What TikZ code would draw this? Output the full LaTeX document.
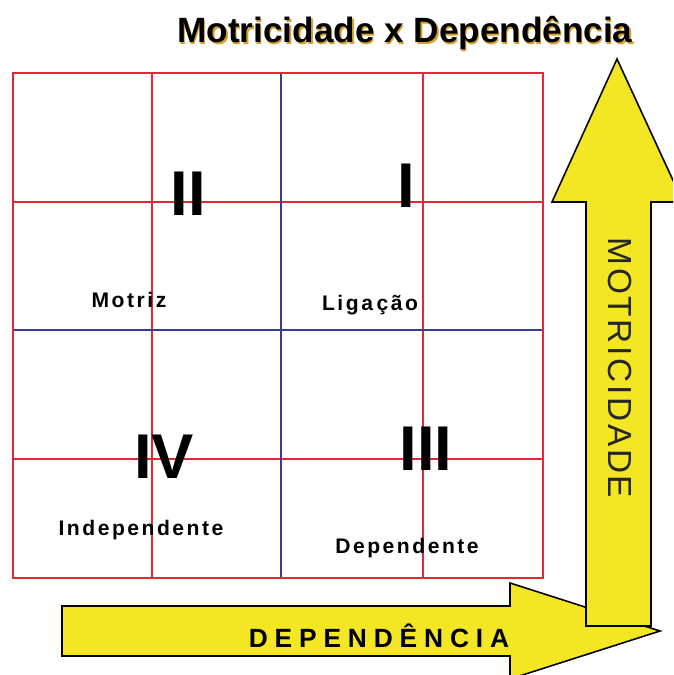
\documentclass[tikz,border=0pt]{standalone}
\usepackage{fontspec}
\setmainfont{Liberation Sans}
\newfontfamily\spacedfont[LetterSpace=12]{Liberation Sans}
\newfontfamily\hfont[LetterSpace=26]{Liberation Sans}
\newfontfamily\vfont[LetterSpace=8]{Liberation Sans}
\definecolor{gridred}{RGB}{226,40,52}
\definecolor{gridblue}{RGB}{60,60,140}
\definecolor{arrowyellow}{RGB}{243,231,36}
\definecolor{shadowgold}{RGB}{214,160,40}

\tikzset{
  redline/.style={draw=gridred, line width=1.1pt},
  blueline/.style={draw=gridblue, line width=1.1pt},
  bigarrow/.style={draw=black, fill=arrowyellow, line width=0.9pt, line join=miter},
  titletext/.style={font=\fontsize{20}{24}\selectfont\bfseries, inner sep=0pt, anchor=base},
  roman/.style={font=\fontsize{36}{40}\selectfont\bfseries, inner sep=0pt, anchor=base},
  quadtext/.style={font=\fontsize{12}{14}\selectfont\bfseries\spacedfont, inner sep=0pt, anchor=base},
}

\begin{document}
\begin{tikzpicture}[x=0.02cm, y=-0.02cm]
  \useasboundingbox (0,0) rectangle (673,675);

  % --- title ---
  \node[titletext, text=shadowgold] at (406.3,44.3) {Motricidade x Dependência};
  \node[titletext] (title) at (405,43) {Motricidade x Dependência};

  % --- 4x4 grid, the quadrants split by the blue lines ---
  \foreach \x in {152,423} \draw[redline] (\x,73) -- (\x,578);
  \foreach \y in {202,459} \draw[redline] (13,\y) -- (543,\y);
  \draw[blueline] (281,73) -- (281,578);
  \draw[blueline] (13,330) -- (543,330);
  \draw[redline] (13,73) rectangle (543,578);

  % quadrant numbers
  \node[roman] (quadII)  at (188,216) {II};
  \node[roman] (quadI)   at (406,208) {I};
  \node[roman] (quadIV)  at (164,478) {IV};
  \node[roman] (quadIII) at (426,470) {III};

  % quadrant names
  \node[quadtext] (motriz)       at (129,307) {Motriz};
  \node[quadtext] (ligacao)      at (370,310) {Liga\kern2pt ção};
  \node[quadtext] (independente) at (141,535) {Independente};
  \node[quadtext] (dependente)   at (407,553) {Dependente};

  % --- axes as block arrows ---
  \begin{scope}
    \clip (0,0) rectangle (673,675);
    % horizontal: dependence
    \draw[bigarrow] (62,606) -- (510,606) -- (510,583) -- (660,631)
      -- (510,679) -- (510,656) -- (62,656) -- cycle;
    % vertical: motricity (on top)
    \draw[bigarrow] (586,626) -- (586,202) -- (552,202) -- (617,59)
      -- (683,202) -- (651,202) -- (651,626) -- cycle;
  \end{scope}

  \node[font=\fontsize{15}{18}\selectfont\bfseries\hfont, inner sep=0pt, anchor=base]
    (dependencia) at (379,647) {DEPENDÊNCIA};
  \node[font=\fontsize{19}{22}\selectfont\vfont, text=black!85, inner sep=0pt, rotate=-90]
    (motricidade) at (620,368) {MOTRICIDADE};

\end{tikzpicture}
\end{document}
